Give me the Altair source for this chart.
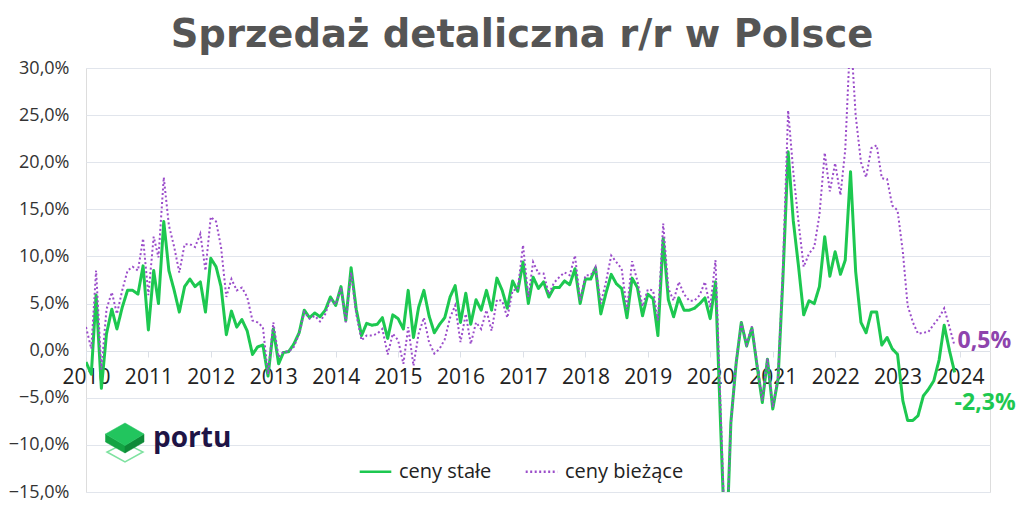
import altair as alt
import pandas as pd

# ---- data (monthly y/y, %) Jan 2010 - Dec 2023 ----
stale = [
    -1.2, -2.5, 5.9, -4.0, 1.8, 4.4, 2.3, 4.6, 6.4, 6.4, 6.0, 9.0,      # 2010
    2.2, 8.5, 5.0, 13.7, 8.5, 6.4, 4.1, 6.8, 7.6, 6.8, 7.3, 4.1,        # 2011
    9.8, 8.9, 6.8, 1.7, 4.2, 2.5, 3.3, 2.1, -0.4, 0.4, 0.6, -2.7,      # 2012
    2.3, -1.4, -0.2, -0.1, 0.7, 1.9, 4.3, 3.5, 4.0, 3.6, 4.3, 5.7,     # 2013
    4.8, 6.8, 3.2, 8.8, 4.4, 1.6, 2.9, 2.7, 2.8, 3.5, 1.3, 3.8,        # 2014
    3.4, 2.3, 6.4, 1.4, 4.6, 6.4, 3.7, 1.9, 2.8, 3.5, 5.7, 6.9,        # 2015
    3.0, 6.1, 2.8, 5.4, 4.3, 6.4, 4.3, 7.7, 6.4, 4.5, 7.4, 6.3,        # 2016
    9.4, 5.0, 7.8, 6.6, 7.3, 5.7, 6.7, 6.7, 7.4, 7.0, 8.7, 5.0,        # 2017
    7.6, 7.6, 8.8, 3.9, 6.1, 8.1, 7.1, 6.6, 3.5, 7.7, 6.7, 3.7,        # 2018
    6.0, 5.5, 1.6, 11.9, 5.4, 3.6, 5.6, 4.3, 4.3, 4.5, 5.0, 5.6,       # 2019
    3.4, 7.3, -7.5, -22.9, -7.6, -1.3, 3.0, 0.5, 2.4, -1.6, -5.5, -0.9,  # 2020
    -6.2, -3.0, 7.5, 21.1, 13.8, 8.9, 3.8, 5.3, 5.0, 6.8, 12.1, 7.9,   # 2021
    10.5, 8.1, 9.6, 19.0, 8.4, 3.0, 1.9, 4.1, 4.1, 0.6, 1.4, 0.2,      # 2022
    -0.4, -5.3, -7.4, -7.4, -6.9, -4.8, -4.1, -3.2, -1.0, 2.7, 0.0, -2.3,  # 2023
]
biezace = [
    2.5, 0.2, 8.5, -2.0, 4.4, 6.2, 3.9, 6.4, 8.5, 8.9, 8.5, 11.9,      # 2010
    5.9, 12.1, 9.9, 18.4, 13.3, 11.0, 8.3, 11.3, 11.3, 11.0, 12.4, 8.5,  # 2011
    14.2, 13.7, 11.0, 5.7, 7.6, 6.4, 6.7, 5.7, 3.2, 3.0, 2.5, -2.5,    # 2012
    3.0, -0.7, -0.1, -0.1, 0.4, 1.8, 4.1, 3.4, 3.7, 3.1, 3.9, 5.5,     # 2013
    4.9, 6.7, 3.0, 8.3, 3.9, 1.1, 1.6, 1.6, 1.8, 2.3, -0.4, 1.8,       # 2014
    1.1, -1.4, 2.5, -1.6, 1.8, 3.5, 0.9, -0.3, 0.2, 1.2, 3.5, 4.8,     # 2015
    0.9, 3.9, 0.7, 3.0, 2.3, 4.3, 2.1, 5.4, 5.3, 3.5, 6.4, 6.5,        # 2016
    11.2, 5.7, 9.4, 8.2, 8.2, 6.0, 7.2, 7.8, 8.3, 8.0, 10.1, 5.3,      # 2017
    8.0, 8.0, 8.9, 5.0, 7.3, 10.1, 9.4, 8.7, 4.3, 9.5, 7.4, 4.7,       # 2018
    6.5, 6.4, 3.2, 13.5, 6.6, 5.3, 7.3, 6.0, 5.3, 5.3, 5.9, 7.3,       # 2019
    4.6, 9.6, -5.6, -22.6, -7.7, -1.2, 3.0, 0.7, 2.6, -1.3, -5.3, -0.8,  # 2020
    -6.0, -2.8, 8.5, 25.5, 19.0, 13.6, 8.9, 10.3, 11.0, 14.4, 21.0, 16.9,  # 2021
    19.9, 16.5, 21.3, 34.0, 25.0, 20.0, 18.4, 21.5, 21.8, 18.3, 18.2, 15.4,  # 2022
    14.9, 10.5, 4.8, 3.0, 1.8, 1.9, 2.0, 2.8, 3.5, 4.5, 2.5, 0.5,      # 2023
]
series_names = ["ceny stałe", "ceny bieżące"]
year_ticks = list(range(2010, 2025))
y_ticks = list(range(-15, 31, 5))
title_text = "Sprzedaż detaliczna r/r w Polsce"

GREEN = "#1DC850"
PURPLE = "#9B4DCA"
PURPLE_TXT = "#8E44AD"

dates = pd.date_range("2010-01-01", periods=len(stale), freq="MS")
df = pd.concat([
    pd.DataFrame({"date": dates, "value": stale, "seria": series_names[0]}),
    pd.DataFrame({"date": dates, "value": biezace, "seria": series_names[1]}),
])

def fmt(v):
    return f"{v:.1f}".replace(".", ",") + "%"

last = pd.DataFrame({
    "date": [dates[-1], dates[-1]],
    "value": [stale[-1], biezace[-1]],
    "seria": series_names,
    "label": [fmt(stale[-1]), fmt(biezace[-1])],
})

x_enc = alt.X(
    "date:T",
    scale=alt.Scale(domain=[alt.DateTime(year=2010, month=1, date=1),
                            alt.DateTime(year=2024, month=6, date=25)]),
    axis=alt.Axis(
        values=[alt.DateTime(year=y, month=1, date=1) for y in year_ticks],
        format="%Y", title=None, grid=False, offset=-141,
        labelFontSize=21, labelColor="#222222", labelFont="Open Sans",
        labelFlush=False, labelOverlap=False, labelPadding=9,
        domainColor="#dde1e8", tickColor="#dde1e8", tickSize=6,
    ),
)
y_enc = alt.Y(
    "value:Q",
    scale=alt.Scale(domain=[-15, 30], nice=False, zero=False),
    axis=alt.Axis(
        values=y_ticks, title=None, domain=False, ticks=False,
        labelExpr="replace(format(datum.value, '.1f'), '.', ',') + '%'",
        labelFontSize=18, labelColor="#333333", labelFont="Open Sans",
        labelPadding=17, gridColor="#e1e5ec", gridWidth=1,
    ),
)
legend_kw = dict(
    title=None, orient="none", legendX=272, legendY=386, direction="horizontal",
    symbolType="stroke", symbolSize=1000, symbolStrokeWidth=2.5,
    labelFontSize=20, labelFont="Open Sans", labelColor="#222222",
    labelOffset=6, columnPadding=28, padding=0,
)
color_enc = alt.Color(
    "seria:N",
    scale=alt.Scale(domain=series_names, range=[GREEN, PURPLE]),
    legend=alt.Legend(**legend_kw),
)
dash_enc = alt.StrokeDash(
    "seria:N",
    scale=alt.Scale(domain=series_names, range=[[1, 0], [2, 2.5]]),
    legend=alt.Legend(**legend_kw),
)

base = alt.Chart(df)
green_line = base.transform_filter(alt.datum.seria == series_names[0]).mark_line(
    strokeWidth=3, clip=True, strokeJoin="round"
).encode(x=x_enc, y=y_enc, color=color_enc, strokeDash=dash_enc)
purple_line = base.transform_filter(alt.datum.seria == series_names[1]).mark_line(
    strokeWidth=2, clip=True
).encode(x=x_enc, y=y_enc, color=color_enc, strokeDash=dash_enc)

lab_base = alt.Chart(last)
lab_green = lab_base.transform_filter(alt.datum.seria == series_names[0]).mark_text(
    align="left", baseline="middle", dx=0, dy=31, fontSize=23, fontWeight="bold",
    font="Open Sans", color=GREEN
).encode(x="date:T", y="value:Q", text="label:N")
lab_purple = lab_base.transform_filter(alt.datum.seria == series_names[1]).mark_text(
    align="left", baseline="middle", dx=3, dy=-5, fontSize=23, fontWeight="bold",
    font="Open Sans", color=PURPLE_TXT
).encode(x="date:T", y="value:Q", text="label:N")

# ---- title as text (decoration) ----
title_mark = alt.Chart(pd.DataFrame({"t": [title_text]})).mark_text(
    align="center", baseline="alphabetic", fontSize=38.5, fontWeight="bold",
    font="DejaVu Sans", color="#555555"
).encode(x=alt.value(436), y=alt.value(-21), text="t:N")

# ---- portu logo (decoration) ----
one = pd.DataFrame({"t": ["portu"]})
top_face = "M0,-0.975 L0.95,-0.425 L0,0.155 L-0.975,-0.425 Z"
left_face = "M-0.975,-0.425 L0,0.155 L0,0.525 L-0.975,-0.025 Z"
right_face = "M0,0.155 L0.95,-0.425 L0.95,-0.025 L0,0.525 Z"
outline = "M-0.9,0.475 L0,0.975 L0.9,0.475 L0,0.025 Z"
logo_parts = [alt.Chart(one).mark_point(
    shape=outline, size=1600, filled=False, stroke="#7ee2a0", strokeWidth=1.5, opacity=1
).encode(x=alt.value(39), y=alt.value(374.5))]
for path, fillc in [(left_face, "#13A443"), (right_face, "#0E8A38"), (top_face, "#22C55E")]:
    logo_parts.append(alt.Chart(one).mark_point(
        shape=path, size=1600, filled=True, fill=fillc, stroke=fillc, strokeWidth=0.5, opacity=1
    ).encode(x=alt.value(39), y=alt.value(374.5)))
logo_text = alt.Chart(one).mark_text(
    align="left", baseline="alphabetic", fontSize=28, fontWeight="bold",
    font="Open Sans", color="#1E1446"
).encode(x=alt.value(67), y=alt.value(379), text="t:N")

chart = alt.layer(
    green_line, purple_line, lab_green, lab_purple, title_mark, *logo_parts, logo_text
).properties(
    width=904, height=424,
    autosize=alt.AutoSizeParams(type="none"),
    padding={"left": 78, "top": 60, "right": 26, "bottom": 19},
).configure_view(stroke=None).configure(background="white")

chart.save("out.html", embed_options={"renderer": "svg", "actions": False})
